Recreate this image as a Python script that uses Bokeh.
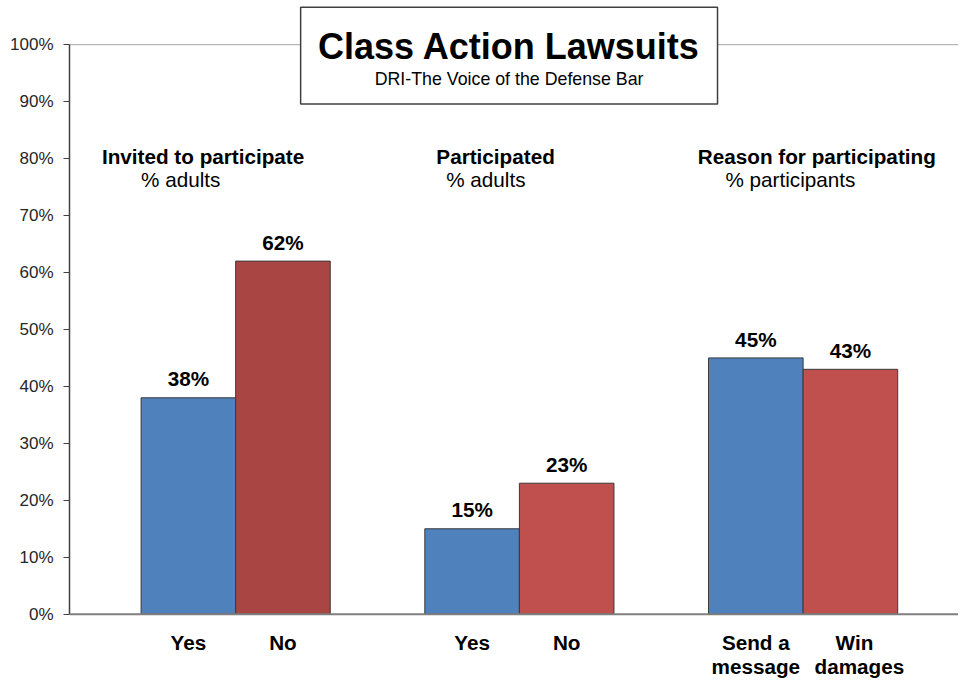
from bokeh.plotting import figure
from bokeh.models import Range1d, FixedTicker, PrintfTickFormatter, Span, LinearAxis
from bokeh.core.properties import value
from bokeh.embed import file_html
from bokeh.resources import INLINE

# ---- data ----
chart_title = "Class Action Lawsuits"
chart_subtitle = "DRI-The Voice of the Defense Bar"
group_titles = ["Invited to participate", "Participated", "Reason for participating"]
group_bases = ["% adults", "% adults", "% participants"]
first_labels = ["Yes", "Yes", "Send a\nmessage"]
second_labels = ["No", "No", "Win\ndamages"]
first_values = [38, 15, 45]
second_values = [62, 23, 43]
y_ticks = [0, 10, 20, 30, 40, 50, 60, 70, 80, 90, 100]

# ---- styles / layout ----
FONT = "Liberation Sans"
first_colors = ["#4F81BD", "#4F81BD", "#4F81BD"]
second_colors = ["#A94543", "#C0504D", "#C0504D"]
header_left = [-0.414, 3.122, 5.887]
base_left = [0.0, 3.226, 6.179]
BASE_FIX = 0.28  # em correction for alphabetic baseline


def fix(px):
    return -BASE_FIX * px


centers = [1 + 3 * i for i in range(len(group_titles))]
xa = [c - 0.5 for c in centers]
xb = [c + 0.5 for c in centers]

p = figure(width=958, height=678,
           x_range=Range1d(-0.757, 8.643), y_range=Range1d(-11.29, 107.76),
           output_backend="svg", toolbar_location=None,
           x_axis_type=None, y_axis_type=None,
           min_border_left=69, min_border_right=0,
           min_border_top=0, min_border_bottom=0)
p.outline_line_color = None
p.grid.visible = False
p.background_fill_color = "white"

# y axis
yaxis = LinearAxis(ticker=FixedTicker(ticks=y_ticks),
                   formatter=PrintfTickFormatter(format="%d%%"),
                   bounds=(0, 100))
yaxis.axis_line_color = "#404040"
yaxis.axis_line_width = 1.5
yaxis.major_tick_line_color = "#404040"
yaxis.major_tick_out = 6
yaxis.major_tick_in = 0
yaxis.minor_tick_line_color = None
yaxis.major_label_standoff = 10
yaxis.major_label_text_font = FONT
yaxis.major_label_text_font_size = "17px"
yaxis.major_label_text_color = "#262626"
p.add_layout(yaxis, "left")

# top line at 100% and category axis line at 0
p.add_layout(Span(location=100, dimension="width", line_color="#a6a6a6",
                  line_width=1, level="underlay"))
p.add_layout(Span(location=0, dimension="width", line_color="#7f7f7f",
                  line_width=2))

# bars
p.vbar(x=xa, top=first_values, bottom=0, width=1, fill_color=first_colors,
       line_color="#3a3a3a", line_width=1)
p.vbar(x=xb, top=second_values, bottom=0, width=1, fill_color=second_colors,
       line_color="#3a3a3a", line_width=1)

# value labels
VAL_PX = 20.7
for xs, vals in ((xa, first_values), (xb, second_values)):
    p.text(x=xs, y=vals, text=[f"{v}%" for v in vals], text_align="center",
           text_baseline="alphabetic", y_offset=-13 + fix(VAL_PX),
           text_font=value(FONT), text_font_style="bold",
           text_font_size=f"{VAL_PX}px", text_color="black")

# category labels (below the axis line)
CAT_PX = 20.7
cat_x, cat_l1, cat_l2 = [], [], []
for xs, labs in ((xa, first_labels), (xb, second_labels)):
    for x, lab in zip(xs, labs):
        parts = lab.split("\n")
        cat_x.append(x)
        cat_l1.append(parts[0])
        cat_l2.append(parts[1] if len(parts) > 1 else "")
off1 = [0, 0, 0, 0, 0, 4]
off2 = [0, 0, 0, 0, 0, 9]
p.text(x=cat_x, y=[-6.04] * len(cat_x), text=cat_l1, text_align="center",
       text_baseline="alphabetic", y_offset=fix(CAT_PX), x_offset=off1,
       text_font=value(FONT), text_font_style="bold",
       text_font_size=f"{CAT_PX}px", text_color="black")
p.text(x=cat_x, y=[-10.19] * len(cat_x), text=cat_l2, text_align="center",
       text_baseline="alphabetic", y_offset=fix(CAT_PX), x_offset=off2,
       text_font=value(FONT), text_font_style="bold",
       text_font_size=f"{CAT_PX}px", text_color="black")

# group headers
HDR_PX = 20.7
p.text(x=header_left, y=[79.3] * 3, text=group_titles, text_align="left",
       text_baseline="alphabetic", y_offset=fix(HDR_PX),
       text_font=value(FONT), text_font_style="bold",
       text_font_size=f"{HDR_PX}px", text_color="black")
p.text(x=base_left, y=[75.3] * 3, text=group_bases, text_align="left",
       text_baseline="alphabetic", y_offset=fix(HDR_PX),
       text_font=value(FONT),
       text_font_size=f"{HDR_PX}px", text_color="black")

# title box
TTL_PX = 36
SUB_PX = 17.8
p.quad(left=[1.687], right=[6.095], bottom=[89.6], top=[106.56],
       fill_color="white", line_color="#404040", line_width=1.5)
p.text(x=[3.891], y=[97.9], text=[chart_title], text_align="center",
       text_baseline="alphabetic", y_offset=fix(TTL_PX),
       text_font=value(FONT), text_font_style="bold",
       text_font_size=f"{TTL_PX}px", text_color="black")
p.text(x=[3.891], y=[93.1], text=[chart_subtitle], text_align="center",
       text_baseline="alphabetic", y_offset=fix(SUB_PX),
       text_font=value(FONT),
       text_font_size=f"{SUB_PX}px", text_color="black")

open("out.html", "w").write(file_html(p, INLINE))
